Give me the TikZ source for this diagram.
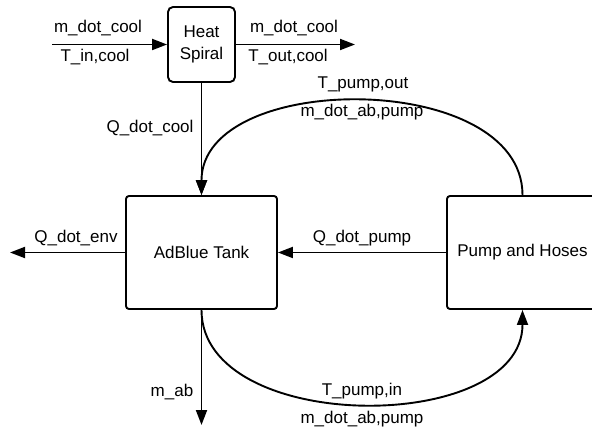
\documentclass[tikz,border=0pt]{standalone}
\usepackage{fontspec}
\setmainfont{Liberation Sans}
\usepackage{tikz}
\usetikzlibrary{arrows.meta, positioning}

\tikzset{
  block/.style={draw, line width=1.9pt, rounded corners=3pt,
                minimum width=151pt, minimum height=113pt, align=center},
  flow/.style={line width=1.9pt, -{Triangle[length=15pt, width=11pt]}},
  lbl/.style={inner sep=0pt, anchor=base}
}

\begin{document}
\begin{tikzpicture}[x=1pt, y=1pt, font=\fontsize{17}{22}\selectfont]
  \useasboundingbox (0,0) rectangle (592,429);
  \clip (0,0) rectangle (592,429);

  \node[block, rounded corners=5pt, minimum width=67pt, minimum height=75pt,
        inner sep=0pt] (spiral) at (201.5,384.5) {Heat\\Spiral};
  \node[block] (tank) at (201.5,176.5) {AdBlue Tank};
  \node[block] (pump) at (522.5,176.5) {Pump and Hoses};

  \coordinate (coolin) at (52,384.5);
  \coordinate (coolout) at (355,384.5);
  \coordinate (envout) at (10,176.5);
  \coordinate (about) at (201.5,4);

  \draw[flow] (coolin) -- (spiral.west);
  \draw[flow] (spiral.east) -- (coolout);
  \draw[flow] (spiral.south) -- (tank.north);
  \draw[flow] (pump.west) -- (tank.east);
  \draw[flow] (tank.west) -- (envout);
  \draw[flow] (tank.south) -- (about);
  \draw[flow] (pump.north) to[out=90, in=90] (tank.north);
  \draw[flow] (tank.south) to[out=-90, in=-90] (pump.south);

  \node[lbl] (mcoolin) at (98,396) {m\_dot\_cool};
  \node[lbl] (tcoolin) at (95,367) {T\_in,cool};
  \node[lbl] (mcoolout) at (294,396) {m\_dot\_cool};
  \node[lbl] (tcoolout) at (288,367) {T\_out,cool};
  \node[lbl] (qcool) at (150,296.5) {Q\_dot\_cool};
  \node[lbl] (tpumpout) at (363,340) {T\_pump,out};
  \node[lbl] (mpumpout) at (362,312) {m\_dot\_ab,pump};
  \node[lbl] (qpump) at (362,186) {Q\_dot\_pump};
  \node[lbl] (qenv) at (76,186) {Q\_dot\_env};
  \node[lbl] (mab) at (172,33) {m\_ab};
  \node[lbl] (tpumpin) at (362,34) {T\_pump,in};
  \node[lbl] (mpumpin) at (362,6) {m\_dot\_ab,pump};
\end{tikzpicture}
\end{document}
